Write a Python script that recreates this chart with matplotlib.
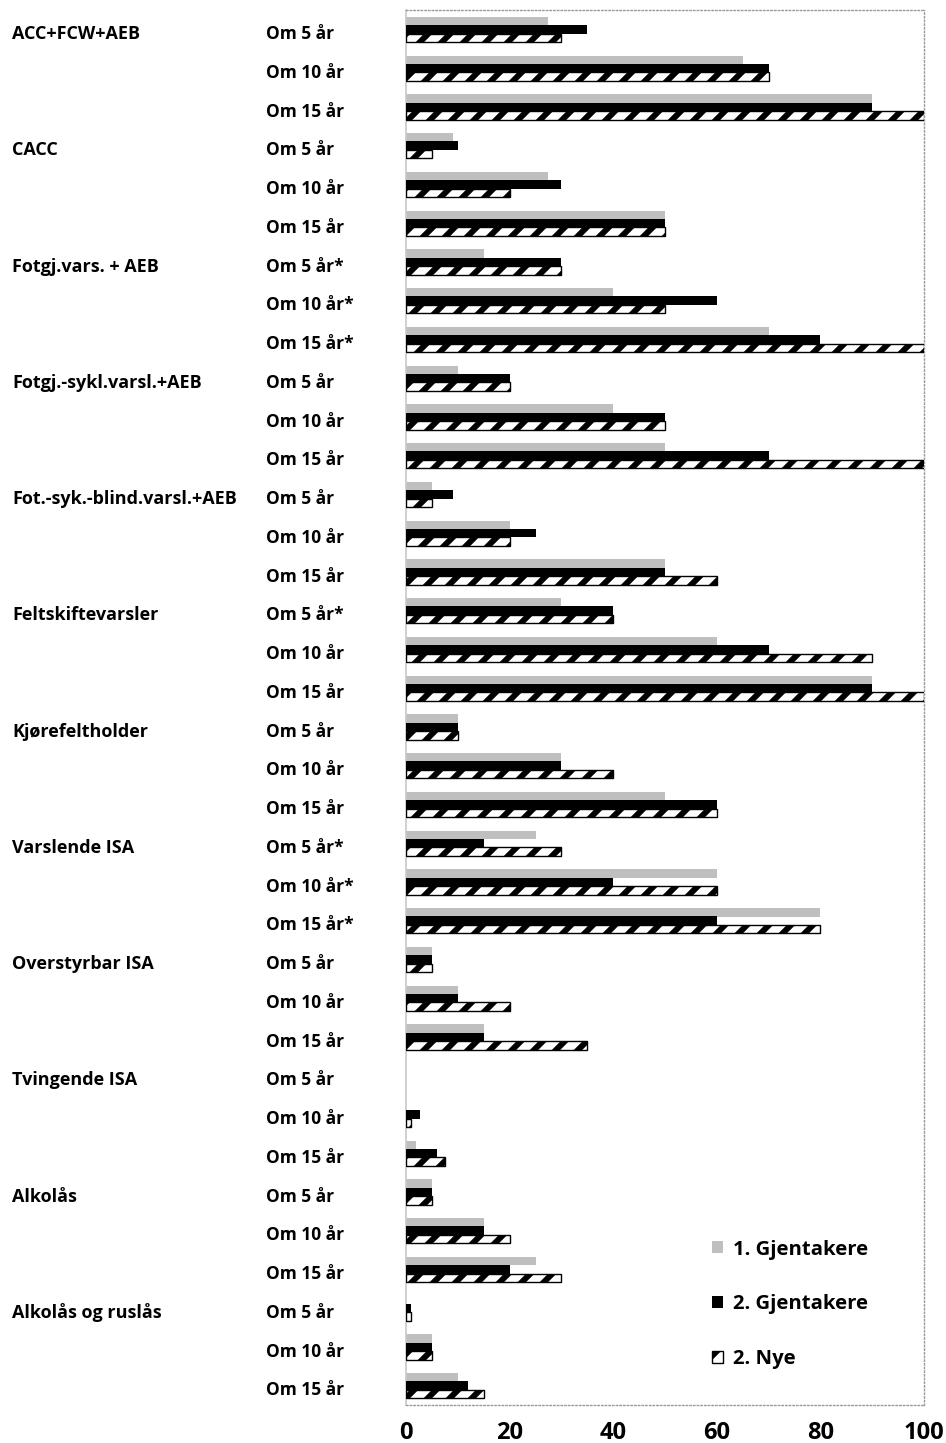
import matplotlib
matplotlib.use("Agg")
import matplotlib.pyplot as plt
import matplotlib.transforms as mtransforms
import numpy as np

DPI = 66
S = 100.0 / DPI  # scale so sizes behave as if at 100 dpi

plt.rcParams['font.family'] = ['Open Sans', 'DejaVu Sans']
plt.rcParams['hatch.linewidth'] = 6.5

categories = ["ACC+FCW+AEB", "CACC", "Fotgj.vars. + AEB", "Fotgj.-sykl.varsl.+AEB",
              "Fot.-syk.-blind.varsl.+AEB", "Feltskiftevarsler", "Kjørefeltholder",
              "Varslende ISA", "Overstyrbar ISA", "Tvingende ISA", "Alkolås",
              "Alkolås og ruslås"]

horizons = [
    ["Om 5 år", "Om 10 år", "Om 15 år"],
    ["Om 5 år", "Om 10 år", "Om 15 år"],
    ["Om 5 år*", "Om 10 år*", "Om 15 år*"],
    ["Om 5 år", "Om 10 år", "Om 15 år"],
    ["Om 5 år", "Om 10 år", "Om 15 år"],
    ["Om 5 år*", "Om 10 år", "Om 15 år"],
    ["Om 5 år", "Om 10 år", "Om 15 år"],
    ["Om 5 år*", "Om 10 år*", "Om 15 år*"],
    ["Om 5 år", "Om 10 år", "Om 15 år"],
    ["Om 5 år", "Om 10 år", "Om 15 år"],
    ["Om 5 år", "Om 10 år", "Om 15 år"],
    ["Om 5 år", "Om 10 år", "Om 15 år"],
]

gjentakere_1 = [27.5, 65, 90,   9, 27.5, 50,   15, 40, 70,   10, 40, 50,
                5, 20, 50,   30, 60, 90,   10, 30, 50,   25, 60, 80,
                5, 10, 15,   0, 0, 2,   5, 15, 25,   0, 5, 10]
gjentakere_2 = [35, 70, 90,   10, 30, 50,   30, 60, 80,   20, 50, 70,
                9, 25, 50,   40, 70, 90,   10, 30, 60,   15, 40, 60,
                5, 10, 15,   0, 2.7, 6,   5, 15, 20,   1, 5, 12]
nye_2 = [30, 70, 100,   5, 20, 50,   30, 50, 100,   20, 50, 100,
         5, 20, 60,   40, 90, 100,   10, 40, 60,   30, 60, 80,
         5, 20, 35,   0, 1, 7.5,   5, 20, 30,   1, 5, 15]

series_labels = ["1. Gjentakere", "2. Gjentakere", "2. Nye"]

fig = plt.figure(figsize=(946 / DPI, 1443 / DPI), dpi=DPI)
ax = fig.add_axes([406/946, 1 - 1405/1443, (924-406)/946, (1405-10)/1443])

n = len(gjentakere_1)
y = np.arange(n)
h = 0.22
ax.barh(y - 0.215, gjentakere_1, height=h, color='#bfbfbf', label=series_labels[0], zorder=2)
ax.barh(y, gjentakere_2, height=h, color='black', label=series_labels[1], zorder=3)
hatched_lw = [0 if v == 0 else 1.0 * S for v in nye_2]
ax.barh(y + 0.22, nye_2, height=h, facecolor='white', edgecolor='black', hatch='/',
        linewidth=hatched_lw, label=series_labels[2], zorder=4)

ax.set_xlim(0, 100)
ax.set_ylim(n - 0.5, -0.5)
ax.set_yticks([])
ax.set_xticks([0, 20, 40, 60, 80, 100])
ax.set_xticklabels(["0", "20", "40", "60", "80", "100"], fontsize=17 * S, fontweight='bold')
ax.tick_params(axis='x', length=0, pad=11.5 * S)
for s in ['top', 'right', 'bottom']:
    ax.spines[s].set_linestyle(':')
    ax.spines[s].set_color('#9a9a9a')
    ax.spines[s].set_linewidth(1.0 * S)
ax.spines['left'].set_color('#c8c8c8')
ax.spines['left'].set_linewidth(1.2 * S)

trans = mtransforms.blended_transform_factory(fig.transFigure, ax.transData)
for ci, cat in enumerate(categories):
    for hi, hl in enumerate(horizons[ci]):
        row = ci * 3 + hi
        if hi == 0:
            ax.text(12/946, row + 0.12, cat, transform=trans, ha='left', va='center',
                    fontsize=13 * S, fontweight='bold')
        ax.text(266/946, row + 0.12, hl, transform=trans, ha='left', va='center',
                fontsize=12.5 * S, fontweight='bold')

leg = ax.legend(loc='lower left', bbox_to_anchor=(0.556, 0.0125), frameon=False,
                prop={'size': 14.6 * S, 'weight': 'bold'}, handlelength=0.55,
                handleheight=0.55, handletextpad=0.45, labelspacing=1.72)
for hnd in leg.legend_handles:
    hnd.set_linewidth(1.0 * S)

fig.savefig("out.png", dpi=DPI)
